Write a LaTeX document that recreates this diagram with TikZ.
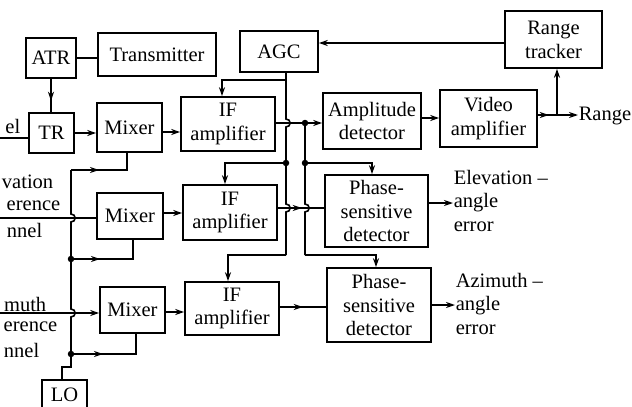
\documentclass[tikz,border=0pt]{standalone}
\usepackage{fontspec}
\setmainfont{Liberation Serif}
\usetikzlibrary{arrows.meta,decorations.markings,calc}
\newcommand\dfont{\fontsize{20.5}{23.8}\selectfont}
\begin{document}
\begin{tikzpicture}[x=1pt,y=-1pt,
  line width=1.6pt,
  box/.style={draw,inner sep=0pt,align=center,font=\dfont},
  lbl/.style={inner sep=0pt,align=left,font=\dfont},
  tip/.style={-{Stealth[length=9pt,width=6pt]}},
  midarrow/.style={postaction={decorate},decoration={markings,mark=at position #1 with {\arrow{Stealth[length=9pt,width=6pt]}}}},
  dot/.style={circle,fill,inner sep=0pt,minimum size=6.5pt}]
\useasboundingbox (0,0) rectangle (632,407);
\clip (0,0) rectangle (632,407);
\fill[white] (0,0) rectangle (632,407);

% boxes
\node[box,minimum width=50pt,minimum height=40pt] (atr) at (51,58) {ATR};
\node[box,minimum width=118pt,minimum height=43pt] (tx) at (157,54.5) {Transmitter};
\node[box,minimum width=78pt,minimum height=41pt] (agc) at (279,51.5) {AGC};
\node[box,minimum width=97pt,minimum height=57pt] (rt) at (553.5,39.5) {Range\\tracker};
\node[box,minimum width=45pt,minimum height=40pt] (tr) at (51.5,133) {TR};
\node[box,minimum width=65pt,minimum height=49pt] (mx1) at (129.5,127.5) {Mixer};
\node[box,minimum width=94pt,minimum height=54pt] (if1) at (228,124) {IF\\amplifier};
\node[box,minimum width=98pt,minimum height=56pt] (ad) at (372,121) {Amplitude\\detector};
\node[box,minimum width=97pt,minimum height=57pt] (va) at (488.5,118.5) {Video\\amplifier};
\node[box,minimum width=66pt,minimum height=46pt] (mx2) at (130,216) {Mixer};
\node[box,minimum width=94pt,minimum height=55pt] (if2) at (230,212.5) {IF\\amplifier};
\node[box,minimum width=103pt,minimum height=72pt] (psd1) at (376.5,211) {Phase-\\sensitive\\detector};
\node[box,minimum width=65pt,minimum height=46pt] (mx3) at (132.5,310) {Mixer};
\node[box,minimum width=94pt,minimum height=53pt] (if3) at (232,308.5) {IF\\amplifier};
\node[box,minimum width=104pt,minimum height=74pt] (psd2) at (379,305) {Phase-\\sensitive\\detector};
\node[box,minimum width=45pt,minimum height=40pt] (lo) at (64.5,400) {};
\node[lbl] (lotext) at (64.5,395) {LO};

% labels
\node[lbl,anchor=east] (sumlbl) at (21,126) {el};
\node[lbl,anchor=east] (el1) at (54,182) {vation};
\node[lbl,anchor=east] (el2) at (61,206) {erence};
\node[lbl,anchor=east] (el3) at (43,230) {nnel};
\node[lbl,anchor=east] (az1) at (47,304) {muth};
\node[lbl,anchor=east] (az2) at (58,327) {erence};
\node[lbl,anchor=east] (az3) at (40,350) {nnel};
\node[lbl,anchor=north west] (elev) at (453,169) {Elevation --\\angle\\error};
\node[lbl,anchor=north west] (azim) at (455,272) {Azimuth --\\angle\\error};
\node[lbl,anchor=west] (range) at (578,116) {Range};

% top row
\draw (atr.east) -- (atr.east -| tx.west);
\draw[midarrow=22pt] (atr.south) -- (atr.south |- tr.north);
\coordinate (sumin) at (0,138);
\draw (sumin) -- (sumin -| tr.west);
\draw[tip] (tr.east) -- (tr.east -| mx1.west);
\coordinate (m1o) at ($(mx1.east)+(0,4.5)$);
\draw[tip] (m1o) -- (m1o -| if1.west);
\coordinate (i1o) at ($(if1.east)+(0,-1)$);
\coordinate (j1) at (305,123);
\draw[tip] (i1o) -- (j1) -- (j1 -| ad.west);
\coordinate (ado) at ($(ad.east)+(0,-3)$);
\draw[tip] (ado) -- (ado -| va.west);
\coordinate (vao) at ($(va.east)+(0,-3.5)$);
\coordinate (rj) at (557,115);
\draw[tip,midarrow=11pt] (vao) -- (vao -| range.west);
\draw[tip] (rj) -- (rj |- rt.south);
\coordinate (rto) at ($(rt.west)+(0,3.5)$);
\draw[tip] (rto) -- (rto -| agc.east);

% AGC distribution line
\coordinate (ag0) at (286,72);
\draw (ag0) -- (286,119) .. controls (291.5,119) and (291.5,127) .. (286,127)
  -- (286,204) .. controls (291.5,204) and (291.5,212) .. (286,212)
  -- (286,255) coordinate (ag3);
\coordinate (ag1) at (286,80);
\coordinate (ag2) at (286,163);
\coordinate (a1c) at (222,80);
\coordinate (a2c) at (225,163);
\coordinate (a3c) at (228,255);
\draw[tip] (ag1) -- (a1c) -- (a1c |- if1.north);
\draw[tip] (ag2) -- (a2c) -- (a2c |- if2.north);
\draw[tip] (ag3) -- (a3c) -- (a3c |- if3.north);

% sum reference line
\coordinate (j2) at (305,163);
\coordinate (j3) at (305,255);
\coordinate (p1c) at (372,163);
\coordinate (p2c) at (376,255);
\draw (j1) -- (j2) -- (305,204) .. controls (310.5,204) and (310.5,212) .. (305,212) -- (j3);
\draw[tip] (j2) -- (p1c) -- (p1c |- psd1.north);
\draw[tip] (j3) -- (p2c) -- (p2c |- psd2.north);

% channels
\coordinate (m2o) at ($(mx2.east)+(0,-3)$);
\draw[tip] (m2o) -- (m2o -| if2.west);
\coordinate (i2o) at ($(if2.east)+(0,-4.5)$);
\draw[midarrow=24pt] (i2o) -- (i2o -| psd1.west);
\coordinate (m3o) at ($(mx3.east)+(0,2)$);
\draw[tip] (m3o) -- (m3o -| if3.west);
\coordinate (i3o) at ($(if3.east)+(0,-1.5)$);
\draw[midarrow=23pt] (i3o) -- (i3o -| psd2.west);
\coordinate (p1o) at ($(psd1.east)+(0,-8)$);
\draw[tip] (p1o) -- (p1o -| elev.west);
\draw[tip] (psd2.east) -- (psd2.east -| azim.west);
\coordinate (elin) at (0,218);
\draw (elin) -- (elin -| mx2.west);
\coordinate (azin) at (0,313);
\draw[tip] (azin) -- (azin -| mx3.west);

% LO distribution
\coordinate (l0) at (62,380);
\coordinate (l1) at (71,354);
\coordinate (l2) at (71,259);
\coordinate (l3) at (71,170);
\draw (l0) -- (62,367) -- (71,367) -- (l1)
  -- (71,317) .. controls (76.5,317) and (76.5,309) .. (71,309)
  -- (l2)
  -- (71,222) .. controls (76.5,222) and (76.5,214) .. (71,214)
  -- (l3);
\coordinate (b1) at (127,170);
\coordinate (b2) at (133,259);
\coordinate (b3) at (136,354);
\draw[midarrow=28pt] (l3) -- (b1) -- (b1 |- mx1.south);
\draw[midarrow=29pt] (l2) -- (b2) -- (b2 |- mx2.south);
\draw[midarrow=32pt] (l1) -- (b3) -- (b3 |- mx3.south);

% junction dots
\node[dot] (d1) at (j1) {};
\node[dot] (d2) at (ag2) {};
\node[dot] (d3) at (j2) {};
\node[dot] (d4) at (l2) {};
\node[dot] (d5) at (l1) {};
\end{tikzpicture}
\end{document}
